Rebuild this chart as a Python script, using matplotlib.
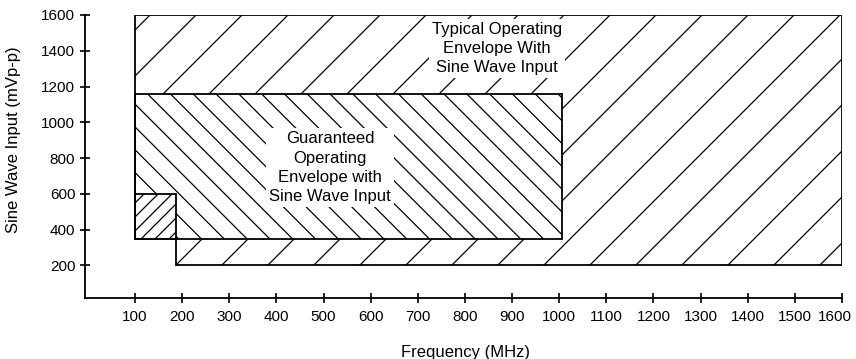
import numpy as np
import matplotlib
matplotlib.use("Agg")
import matplotlib.pyplot as plt
import matplotlib.transforms as mtransforms
from matplotlib.patches import Polygon, Rectangle

plt.rcParams['font.family'] = ['Liberation Sans', 'DejaVu Sans']

# envelope corners (MHz, mVp-p)
typical_f = [100, 1600, 1600, 188, 188, 100]
typical_v = [1600, 1600, 200, 200, 350, 350]
guar_f = [100, 1005]
guar_v = [350, 1160]
low_f = [100, 188]
low_v = [350, 600]

xticks = list(range(100, 1700, 100))
yticks = list(range(200, 1800, 200))

W, H = 856, 359
fig = plt.figure(figsize=(W / 100, H / 100), dpi=100)
ax = fig.add_axes([85 / W, (H - 297.7) / H, 757 / W, 282.7 / H])
ax.set_xlim(-6, 1600)
ax.set_ylim(19, 1600)

for s in ['top', 'right']:
    ax.spines[s].set_visible(False)
for s in ['left', 'bottom']:
    ax.spines[s].set_linewidth(1.3)

ax.set_xticks(xticks)
ax.set_yticks(yticks)
ax.tick_params(direction='inout', length=7, width=1.2, labelsize=11, pad=3.5)
ax.tick_params(axis='x', pad=5)

# last x label sits a little left of its tick, as in the original
last = ax.xaxis.get_major_ticks()[-1].label1
last.set_transform(last.get_transform() +
                   mtransforms.ScaledTranslation(-5 / 72, 0, fig.dpi_scale_trans))


def hatch(patch, spacing, c0, up, lw=0.9, z=2):
    # lines in image pixels: up -> x + y_img = c, down -> x - y_img = c
    inv = ax.transData.inverted()
    xs = np.array([-600.0, 1500.0])
    for c in np.arange(c0 - 40 * spacing, c0 + 40 * spacing, spacing):
        if up:
            yimg = c - xs
        else:
            yimg = xs - c
        pts = inv.transform(np.column_stack([xs, H - yimg]))
        ln, = ax.plot(pts[:, 0], pts[:, 1], color='black', lw=lw, zorder=z)
        ln.set_clip_path(patch)


typ = Polygon(np.column_stack([typical_f, typical_v]), closed=True,
              facecolor='white', edgecolor='none', zorder=1)
ax.add_patch(typ)
hatch(typ, 46, 165, True, z=2)

guar = Rectangle((guar_f[0], guar_v[0]), guar_f[1] - guar_f[0], guar_v[1] - guar_v[0],
                 facecolor='white', edgecolor='none', zorder=3)
ax.add_patch(guar)
hatch(guar, 22.8, 167.7, False, z=4)

low = Rectangle((low_f[0], low_v[0]), low_f[1] - low_f[0], low_v[1] - low_v[0],
                facecolor='white', edgecolor='none', zorder=5)
ax.add_patch(low)
hatch(low, 14, 380, True, z=6)

# outlines
ax.add_patch(Polygon(np.column_stack([typical_f, typical_v]), closed=True,
                     fill=False, edgecolor='black', lw=1.3, zorder=7))
ax.add_patch(Rectangle((guar_f[0], guar_v[0]), guar_f[1] - guar_f[0], guar_v[1] - guar_v[0],
                       fill=False, edgecolor='black', lw=1.3, zorder=7))
ax.add_patch(Rectangle((low_f[0], low_v[0]), low_f[1] - low_f[0], low_v[1] - low_v[0],
                       fill=False, edgecolor='black', lw=1.3, zorder=7))

box = dict(facecolor='white', edgecolor='none', pad=2)
ax.text(868, 1413, 'Typical Operating\nEnvelope With\nSine Wave Input', ha='center', va='center',
        fontsize=12, linespacing=1.32, bbox=box, zorder=8)
ax.text(514, 746, 'Guaranteed\nOperating\nEnvelope with\nSine Wave Input', ha='center', va='center',
        fontsize=12, linespacing=1.36, bbox=box, zorder=8)

ax.set_ylabel('Sine Wave Input (mVp-p)', fontsize=12)
ax.yaxis.set_label_coords(-0.085, 0.558)
ax.set_xlabel('Frequency (MHz)', fontsize=12)
ax.xaxis.set_label_coords(0.502, -0.168)

fig.savefig('out.png', dpi=100)
